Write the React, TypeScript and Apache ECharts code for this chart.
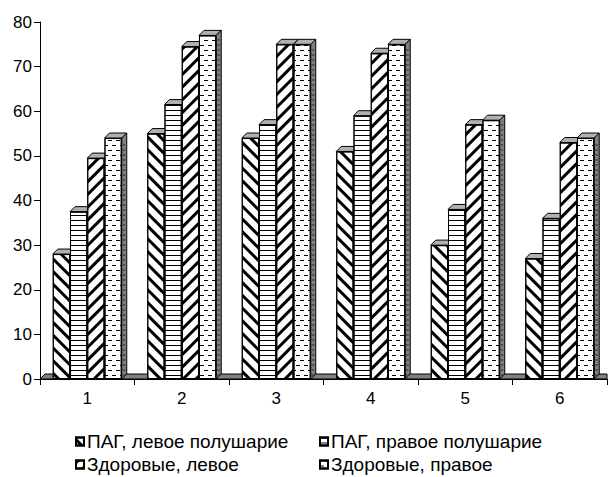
import React, { useEffect, useRef } from "react";
import * as echarts from "echarts";

const categories = ["1", "2", "3", "4", "5", "6"];
const seriesNames = [
  "ПАГ, левое полушарие",
  "ПАГ, правое полушарие",
  "Здоровые, левое",
  "Здоровые, правое",
];
const pagLeft = [28, 55, 54, 51, 30, 27];
const pagRight = [37.5, 61.5, 57, 59, 38, 36];
const healthyLeft = [49.5, 74.5, 75, 73, 57, 53];
const healthyRight = [54, 77, 75, 75, 58, 54];
const yMin = 0;
const yMax = 80;
const yInterval = 10;

const allValues = [pagLeft, pagRight, healthyLeft, healthyRight];

const FONT = 'Arial, "Liberation Sans", sans-serif';
const GAP = 0.27;
const D = 5;

const decals: any[] = [
  { symbol: "rect", symbolSize: 1, color: "#000", backgroundColor: "#fff", dashArrayX: [1, 0], dashArrayY: [3, 6], rotation: Math.PI / 4 },
  { symbol: "rect", symbolSize: 1, color: "#000", backgroundColor: "#fff", dashArrayX: [1, 0], dashArrayY: [1, 4], rotation: 0 },
  { symbol: "rect", symbolSize: 1, color: "#000", backgroundColor: "#fff", dashArrayX: [1, 0], dashArrayY: [3, 6], rotation: -Math.PI / 4 },
  { symbol: "rect", symbolSize: 1, color: "#000", backgroundColor: "#fff", dashArrayX: [[4, 4], [0, 4, 4, 0]], dashArrayY: [1, 4], rotation: 0 },
];

function make3D(k: number) {
  const n = allValues.length;
  return {
    type: "custom",
    name: "3d" + k,
    silent: true,
    z: 2,
    data: categories.map((c, i) => [i, allValues[k][i]]),
    encode: { x: 0, y: 1 },
    renderItem: (params: any, api: any) => {
      const cat = api.value(0);
      const v = api.value(1);
      const base = api.coord([cat, 0]);
      const top = api.coord([cat, v]);
      const bw = api.size([1, 0])[0];
      const barW = (bw * (1 - GAP)) / n;
      const x0 = base[0] - (n / 2) * barW + k * barW;
      const x1 = x0 + barW;
      const ty = top[1];
      const by = base[1];
      const children: any[] = [
        {
          type: "polygon",
          shape: { points: [[x0, ty], [x0 + D, ty - D], [x1 + D, ty - D], [x1, ty]] },
          style: { fill: "#b0b0b0", stroke: "#000", lineWidth: 1 },
        },
        {
          type: "polygon",
          shape: { points: [[x1, ty], [x1 + D, ty - D], [x1 + D, by - D], [x1, by]] },
          style: { fill: "#808080", stroke: "#000", lineWidth: 1 },
        },
      ];
      if (k === n - 1) {
        // texture ticks on the side face of the dotted bar
        for (let y = by - 4; y > ty + 2; y -= 5) {
          children.push({
            type: "line",
            shape: { x1: x1 + 1, y1: y, x2: x1 + 3.5, y2: y },
            style: { stroke: "#222", lineWidth: 1 },
          });
        }
      }
      return { type: "group", children };
    },
  };
}

export default function App() {
  const ref = useRef<HTMLDivElement>(null);
  useEffect(() => {
    document.body.style.margin = "0";
    const chart = echarts.init(ref.current!, undefined, { renderer: "svg" });
    const series: any[] = [
      {
        type: "custom",
        name: "floor",
        silent: true,
        z: 1,
        data: [[0, 0]],
        encode: { x: 0, y: 1 },
        renderItem: (params: any, api: any) => {
          const cs = params.coordSys;
          const yb = cs.y + cs.height;
          return {
            type: "polygon",
            shape: {
              points: [
                [cs.x, yb],
                [cs.x + D, yb - D],
                [cs.x + cs.width, yb - D],
                [cs.x + cs.width, yb],
              ],
            },
            style: { fill: "#808080", stroke: "#000", lineWidth: 1 },
          };
        },
      },
    ];
    allValues.forEach((vals, k) => {
      series.push({
        type: "bar",
        name: seriesNames[k],
        data: vals,
        z: 2,
        barGap: "0%",
        barCategoryGap: GAP * 100 + "%",
        itemStyle: { color: "#fff", borderColor: "#000", borderWidth: 1, decal: decals[k] },
        emphasis: { disabled: true },
      });
      series.push(make3D(k));
    });
    const legendCommon = {
      orient: "vertical",
      top: 432,
      height: 80,
      width: 260,
      padding: 0,
      itemGap: 4,
      itemWidth: 8,
      itemHeight: 8,
      icon: "rect",
      selectedMode: false,
      textStyle: { fontSize: 19, lineHeight: 19, color: "#000", fontFamily: FONT, padding: [0, 0, 0, -2] },
    };
    chart.setOption({
      animation: false,
      textStyle: { fontFamily: FONT },
      grid: { left: 40, right: 1, top: 22, bottom: 98, containLabel: false },
      legend: [
        { ...legendCommon, data: [seriesNames[0], seriesNames[2]], left: 75 },
        { ...legendCommon, data: [seriesNames[1], seriesNames[3]], left: 319 },
      ],
      xAxis: {
        type: "category",
        data: categories,
        axisLine: { lineStyle: { color: "#000", width: 1 } },
        axisTick: { show: true, length: 6, lineStyle: { color: "#000" } },
        axisLabel: { color: "#000", fontSize: 17, margin: 11, fontFamily: FONT },
        splitLine: { show: false },
      },
      yAxis: {
        type: "value",
        min: yMin,
        max: yMax,
        interval: yInterval,
        axisLine: { show: true, lineStyle: { color: "#000", width: 1 } },
        axisTick: { show: true, length: 6, lineStyle: { color: "#000" } },
        axisLabel: { color: "#000", fontSize: 17, margin: 8, fontFamily: FONT },
        splitLine: { show: false },
      },
      series,
    });
    return () => chart.dispose();
  }, []);
  return <div ref={ref} style={{ width: 608, height: 477 }} />;
}
